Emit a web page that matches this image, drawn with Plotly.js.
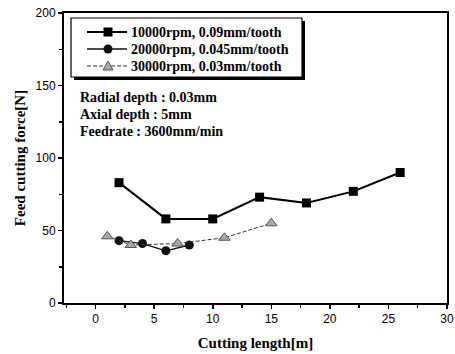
<!DOCTYPE html>
<html><head><meta charset="utf-8">
<script src="https://cdn.plot.ly/plotly-3.0.1.min.js"></script>
<style>body{margin:0;background:#fff}#c{width:455px;height:354px}</style>
</head><body><div id="c"></div>
<script>
const names = ["10000rpm, 0.09mm/tooth", "20000rpm, 0.045mm/tooth", "30000rpm, 0.03mm/tooth"];
const x1 = [2, 6, 10, 14, 18, 22, 26];
const y1 = [83, 58, 58, 73, 69, 77, 90];
const x2 = [2, 4, 6, 8];
const y2 = [43, 41, 36, 40];
const x3 = [1, 3, 7, 11, 15];
const y3 = [46, 40, 41, 45, 55];
const xTicks = [0, 5, 10, 15, 20, 25, 30];
const yTicks = [0, 50, 100, 150, 200];
const notes = ["Radial depth : 0.03mm", "Axial depth : 5mm", "Feedrate : 3600mm/min"];

const serif = "Liberation Serif, Times New Roman, serif";
const sans = "Liberation Sans, Arial, sans-serif";
// plot area in pixels: left 64, right 447, top 13, bottom 303
const L = 64, R = 447, T = 13, B = 303;
const px = X => (X - L) / (R - L);
const py = Y => (B - Y) / (B - T);

const styles = [
  {line: {color: "#000", width: 2}, marker: {symbol: "square", size: 9, color: "#000"}},
  {line: {color: "#111", width: 1.3}, marker: {symbol: "circle", size: 9, color: "#111"}},
  {line: {color: "#333", width: 1, dash: "4px,2px"},
   marker: {symbol: "triangle-up", size: 10, color: "#a8a8a8", line: {color: "#555", width: 1}}}
];
const xs = [x1, x2, x3], ys = [y1, y2, y3];
const traces = xs.map((x, i) => Object.assign({x: x, y: ys[i], name: names[i], mode: "lines+markers",
  showlegend: false}, styles[i]));

// manual legend
const shapes = [
  {type: "rect", xref: "paper", yref: "paper", layer: "above",
   x0: px(74), x1: px(305), y0: py(80), y1: py(21), fillcolor: "#000", line: {width: 0}},
  {type: "rect", xref: "paper", yref: "paper", layer: "above",
   x0: px(71), x1: px(302), y0: py(77), y1: py(18), fillcolor: "#fff", line: {color: "#000", width: 1.2}}
];
const rowY = [32, 49, 66];
const annotations = [];
rowY.forEach((Y, i) => {
  const st = styles[i];
  shapes.push({type: "line", xref: "paper", yref: "paper", layer: "above",
    x0: px(87), x1: px(127), y0: py(Y), y1: py(Y),
    line: {color: st.line.color, width: st.line.width, dash: st.line.dash || "solid"}});
  const cx = 108, h = 4.5;
  if (i === 0) {
    shapes.push({type: "rect", xref: "paper", yref: "paper", layer: "above",
      x0: px(cx - h), x1: px(cx + h), y0: py(Y + h), y1: py(Y - h), fillcolor: "#000", line: {width: 0}});
  } else if (i === 1) {
    shapes.push({type: "circle", xref: "paper", yref: "paper", layer: "above",
      x0: px(cx - h), x1: px(cx + h), y0: py(Y + h), y1: py(Y - h), fillcolor: "#111", line: {width: 0}});
  } else {
    shapes.push({type: "path", xref: "paper", yref: "paper", layer: "above",
      path: `M ${px(cx - 5)} ${py(Y + 4)} L ${px(cx + 5)} ${py(Y + 4)} L ${px(cx)} ${py(Y - 5)} Z`,
      fillcolor: "#a8a8a8", line: {color: "#555", width: 1}});
  }
  annotations.push({xref: "paper", yref: "paper", x: px(129), y: py(Y), xanchor: "left", yanchor: "middle",
    showarrow: false, text: names[i], font: {family: serif, size: 14, color: "#000", weight: "bold"}});
});
[97, 114, 131].forEach((Y, i) => annotations.push({xref: "paper", yref: "paper", x: px(78), y: py(Y),
  xanchor: "left", yanchor: "middle", showarrow: false, text: notes[i],
  font: {family: serif, size: 14, color: "#000", weight: "bold"}}));

const axisCommon = {showgrid: false, zeroline: false, showline: true, linecolor: "#000", linewidth: 2,
  mirror: true, ticks: "outside", ticklen: 4, tickwidth: 1.5, tickcolor: "#000",
  tickfont: {family: sans, size: 12, color: "#000"}};
const layout = {
  width: 455, height: 354,
  margin: {l: L, r: 455 - R, t: T, b: 354 - B},
  paper_bgcolor: "#fff", plot_bgcolor: "#fff",
  showlegend: false,
  xaxis: Object.assign({}, axisCommon, {range: [-2.7, 30], tickvals: xTicks, ticktext: xTicks.map(String),
    minor: {dtick: 2.5, tick0: 0, ticks: "outside", ticklen: 3, tickcolor: "#000"},
    title: {text: "Cutting length[m]", standoff: 12,
      font: {family: serif, size: 15, color: "#000", weight: "bold"}}}),
  yaxis: Object.assign({}, axisCommon, {range: [0, 200], tickvals: yTicks, ticktext: yTicks.map(String),
    minor: {dtick: 25, tick0: 0, ticks: "outside", ticklen: 3, tickcolor: "#000"},
    title: {text: "Feed cutting force[N]", standoff: 6,
      font: {family: serif, size: 15, color: "#000", weight: "bold"}}}),
  annotations: annotations,
  shapes: shapes
};
Plotly.newPlot("c", traces, layout, {displayModeBar: false, staticPlot: true});
</script></body></html>
